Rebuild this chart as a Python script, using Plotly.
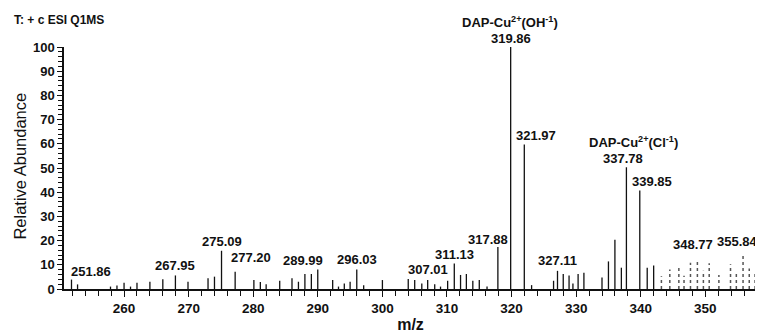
import plotly.graph_objects as go

# ---- data ----
peak_mz = [251.86, 252.8, 257.9, 258.9, 260.0, 261.0, 262.0, 264.0, 266.0, 267.95,
           269.9, 273.0, 274.0, 275.09, 277.20, 280.1, 281.1, 282.0, 284.1, 286.0,
           287.0, 288.0, 289.0, 289.99, 292.3, 293.2, 294.1, 295.0, 296.03, 297.1,
           300.0, 304.0, 305.0, 306.1, 307.01, 308.1, 309.0, 310.1, 311.13, 312.1,
           313.0, 314.0, 315.0, 316.2, 317.88, 319.86, 321.97, 323.1, 326.5, 327.11,
           328.0, 328.9, 329.5, 330.3, 331.2, 334.0, 335.0, 336.0, 337.0, 337.78,
           339.85, 341.0, 342.0, 343.2, 344.5, 345.9, 346.7, 347.7, 348.77, 349.7,
           350.6, 352.1, 353.9, 354.8, 355.84, 356.8, 357.7]
peak_int = [3.9, 1.9, 1.0, 1.4, 2.6, 1.0, 2.6, 3.0, 4.0, 5.6,
            3.0, 4.4, 5.1, 15.8, 7.1, 3.7, 2.9, 2.0, 3.4, 4.4,
            3.0, 6.2, 6.2, 8.1, 3.7, 1.0, 2.3, 3.0, 8.1, 1.6,
            3.7, 4.1, 3.7, 2.3, 3.7, 2.0, 1.0, 3.4, 10.5, 5.8,
            6.2, 3.4, 3.7, 1.0, 17.4, 100.0, 59.7, 1.6, 3.4, 7.5,
            6.2, 5.6, 2.3, 6.2, 6.7, 4.8, 11.4, 20.4, 8.8, 50.3,
            40.7, 8.8, 9.7, 5.3, 8.1, 9.9, 5.5, 10.8, 11.5, 7.5,
            10.6, 5.8, 10.2, 6.4, 14.7, 8.5, 6.7]

label_mz = [251.86, 267.95, 275.09, 277.20, 289.99, 296.03, 307.01, 311.13,
            317.88, 319.86, 321.97, 327.11, 337.78, 339.85, 348.77, 355.84]
label_text = ["251.86", "267.95", "275.09", "277.20", "289.99", "296.03", "307.01", "311.13",
              "317.88", "319.86", "321.97", "327.11", "337.78", "339.85", "348.77", "355.84"]

ion_labels = ["DAP-Cu<sup>2+</sup>(OH<sup>-1</sup>)", "DAP-Cu<sup>2+</sup>(Cl<sup>-1</sup>)"]

x_ticks = [260, 270, 280, 290, 300, 310, 320, 330, 340, 350]
y_ticks = [0, 10, 20, 30, 40, 50, 60, 70, 80, 90, 100]

# ---- styling / placement (pixel offsets for peak labels) ----
label_shift = {"251.86": (20, -1), "277.20": (16, 5), "289.99": (-15, -1),
               "307.01": (0, 1), "317.88": (-10, -2), "319.86": (0, -1),
               "321.97": (12, 0), "327.11": (0, 1), "337.78": (-3, -1),
               "339.85": (12, 0), "348.77": (-4, 7), "355.84": (-6, 2)}
ion_pos = [(0.6436, 1.105), (0.8211, 0.606)]   # paper coordinates

FONT = "Arial, Liberation Sans, sans-serif"
INK = "#111111"

def sticks(mzs, ints):
    xs, ys = [], []
    for m, h in zip(mzs, ints):
        xs += [m, m, None]
        ys += [0, h, None]
    return xs, ys

solid = [(m, h) for m, h in zip(peak_mz, peak_int) if m < 343]
dotted = [(m, h) for m, h in zip(peak_mz, peak_int) if m >= 343]

fig = go.Figure()
xs, ys = sticks([p[0] for p in solid], [p[1] for p in solid])
fig.add_trace(go.Scatter(x=xs, y=ys, mode="lines", line=dict(color=INK, width=1.3),
                         hoverinfo="skip", showlegend=False))
xs, ys = sticks([p[0] for p in dotted], [p[1] for p in dotted])
fig.add_trace(go.Scatter(x=xs, y=ys, mode="lines",
                         line=dict(color="#555555", width=1.5, dash="dot"),
                         hoverinfo="skip", showlegend=False))

annotations = []
height_of = dict(zip(peak_mz, peak_int))
for m, t in zip(label_mz, label_text):
    dx, dy = label_shift.get(t, (0, 0))
    annotations.append(dict(x=m, y=height_of[m], xref="x", yref="y", text=t,
                            showarrow=False, xanchor="center", yanchor="bottom",
                            xshift=dx, yshift=dy,
                            font=dict(family=FONT, size=13, color=INK, weight="bold")))

for txt, (px, py) in zip(ion_labels, ion_pos):
    annotations.append(dict(x=px, y=py, xref="paper", yref="paper", text=txt,
                            showarrow=False, xanchor="center", yanchor="middle",
                            font=dict(family=FONT, size=13, color=INK, weight="bold")))

# header
annotations.append(dict(x=-0.075, y=1.11, xref="paper", yref="paper",
                        text="T: + c ESI Q1MS", showarrow=False,
                        xanchor="left", yanchor="middle",
                        font=dict(family=FONT, size=12, color=INK, weight="bold")))
# y title
annotations.append(dict(x=-0.0635, y=0.51, xref="paper", yref="paper",
                        text="Relative Abundance", showarrow=False, textangle=-90,
                        xanchor="center", yanchor="middle",
                        font=dict(family=FONT, size=16.5, color=INK)))

# page body has an 8px default margin, so the figure is sized to fit the window
fig.update_layout(
    width=755, height=325,
    margin=dict(l=56, r=6, t=39, b=44),
    paper_bgcolor="white", plot_bgcolor="white",
    annotations=annotations,
    xaxis=dict(range=[250.7, 358], tickvals=x_ticks, ticktext=[str(v) for v in x_ticks],
               showline=True, linecolor=INK, linewidth=1.5,
               ticks="outside", ticklen=6, tickwidth=1.3, tickcolor=INK,
               minor=dict(dtick=2, tick0=0, ticks="outside", ticklen=5, tickwidth=1.2,
                          tickcolor=INK, showgrid=False),
               showgrid=False, zeroline=False, automargin=False,
               tickfont=dict(family=FONT, size=13.5, color=INK, weight="bold"),
               title=dict(text="m/z", standoff=5,
                          font=dict(family=FONT, size=16, color=INK, weight="bold"))),
    yaxis=dict(range=[0, 100], tickvals=y_ticks, ticktext=[str(v) for v in y_ticks],
               showline=True, linecolor=INK, linewidth=1.5,
               ticks="outside", ticklen=5, tickwidth=1.3, tickcolor=INK,
               minor=dict(dtick=2, tick0=0, ticks="outside", ticklen=4, tickwidth=1,
                          tickcolor=INK, showgrid=False),
               showgrid=False, zeroline=False, automargin=False,
               tickfont=dict(family=FONT, size=13, color=INK, weight="bold")),
)

fig.write_html("out.html")
